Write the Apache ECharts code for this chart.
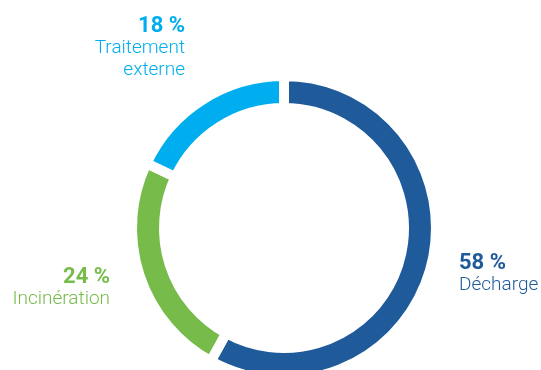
<!DOCTYPE html>
<html><head><meta charset="utf-8">
<script src="https://cdn.jsdelivr.net/npm/echarts@6/dist/echarts.min.js"></script>
<style>html,body{margin:0;padding:0;background:#fff}#c{width:541px;height:370px}</style>
</head><body><div id="c"></div>
<script>
const categories = ['Décharge', 'Incinération', 'Traitement\nexterne'];
const values = [58, 24, 18];
const colors = ['#1f5a9b', '#77bc4b', '#00aeef'];

const labelPos = [
  {x: 459, y: 252, align: 'left'},
  {x: 110, y: 266, align: 'right'},
  {x: 185, y: 15, align: 'right'}
];

const chart = echarts.init(document.getElementById('c'));
chart.setOption({
  animation: false,
  series: [{
    type: 'pie',
    center: [284, 228],
    radius: [120, 152],
    startAngle: 90,
    clockwise: true,
    silent: true,
    itemStyle: {borderColor: '#fff', borderWidth: 10},
    labelLine: {show: false},
    label: {
      show: true,
      overflow: 'none',
      formatter: p => '{v|' + p.value + ' %}\n{n|' + p.name.split('\n').join('}\n{n|') + '}',
      fontFamily: 'Roboto',
      rich: {
        v: {fontSize: 22, fontWeight: 'bold', lineHeight: 22, fontFamily: 'Roboto'},
        n: {fontSize: 19, fontWeight: 300, lineHeight: 22, fontFamily: 'Roboto'}
      }
    },
    labelLayout: p => Object.assign({verticalAlign: 'top', width: 200}, labelPos[p.dataIndex]),
    data: categories.map((c, i) => ({
      name: c, value: values[i],
      itemStyle: {color: colors[i]},
      label: {color: colors[i], rich: {v: {color: colors[i]}, n: {color: colors[i]}}}
    }))
  }]
});
</script></body></html>
